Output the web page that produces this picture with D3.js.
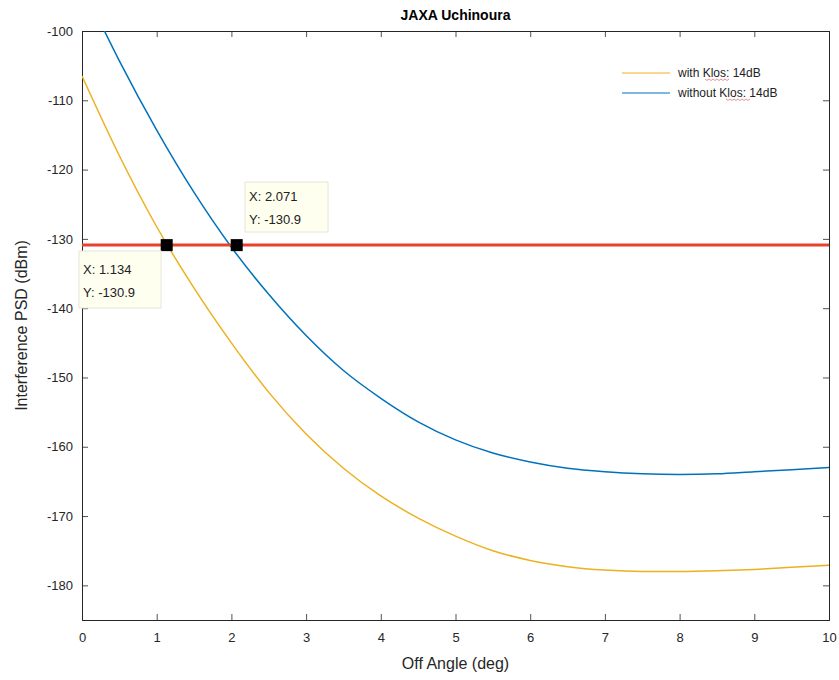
<!DOCTYPE html>
<html>
<head>
<meta charset="utf-8">
<script src="https://cdn.jsdelivr.net/npm/d3@7"></script>
<style>
  html, body { margin: 0; padding: 0; background: #fff; }
  svg { display: block; font-family: "Liberation Sans", Arial, Helvetica, sans-serif; }
</style>
</head>
<body>
<svg id="chart" width="839" height="680"></svg>
<script>
// ---------- data ----------
const angles = [0, 0.5, 1, 1.5, 2, 2.5, 3, 3.5, 4, 4.5, 5, 5.5, 6, 6.5, 7, 7.5, 8, 8.5, 9, 9.5, 10];
const withKlos = [-106.5, -118.0, -128.25, -137.1, -145.0, -152.15, -158.15, -163.1, -167.1, -170.3, -172.9, -175.0, -176.4, -177.3, -177.8, -178.0, -178.0, -177.9, -177.7, -177.4, -177.1];
const withoutKlos = [-93.3, -104.3, -114.3, -123.3, -131.2, -138.0, -143.95, -149.0, -153.0, -156.4, -159.0, -160.9, -162.2, -163.1, -163.6, -163.9, -164.0, -163.9, -163.6, -163.3, -163.0];
const seriesNames = ["with Klos: 14dB", "without Klos: 14dB"];
const thresholdLevel = -130.9;
const dataTips = [
  { x: 1.134, y: -130.9 },
  { x: 2.071, y: -130.9 }
];
const xTicks = [0, 1, 2, 3, 4, 5, 6, 7, 8, 9, 10];
const yTicks = [-100, -110, -120, -130, -140, -150, -160, -170, -180];
const titleText = "JAXA Uchinoura";
const xLabel = "Off Angle (deg)";
const yLabel = "Interference PSD (dBm)";

// ---------- layout ----------
const svg = d3.select("#chart");
const margin = { left: 82, right: 10, top: 31, bottom: 60 };
const W = 839, H = 680;
const x = d3.scaleLinear().domain([0, 10]).range([margin.left, W - margin.right]);
const y = d3.scaleLinear().domain([-185, -100]).range([H - margin.bottom, margin.top]);
const axisColor = "#262626";
const colors = ["#EDB120", "#0072BD"];
const fmt = d => String(d);

svg.append("defs").append("clipPath").attr("id", "clip")
  .append("rect")
  .attr("x", x(0)).attr("y", y(-100))
  .attr("width", x(10) - x(0)).attr("height", y(-185) - y(-100));

// axes (ticks inside, on all four sides)
const tickLen = 6;
const gx = svg.append("g").attr("transform", `translate(0,${y(-185)})`)
  .call(d3.axisBottom(x).tickValues(xTicks).tickSize(-tickLen).tickPadding(13).tickFormat(fmt));
const gxt = svg.append("g").attr("transform", `translate(0,${y(-100)})`)
  .call(d3.axisTop(x).tickValues(xTicks).tickSize(-tickLen).tickFormat(""));
const gy = svg.append("g").attr("transform", `translate(${x(0)},0)`)
  .call(d3.axisLeft(y).tickValues(yTicks).tickSize(-tickLen).tickPadding(9).tickFormat(fmt));
const gyr = svg.append("g").attr("transform", `translate(${x(10)},0)`)
  .call(d3.axisRight(y).tickValues(yTicks).tickSize(-tickLen).tickFormat(""));

[gx, gxt, gy, gyr].forEach(g => {
  g.select(".domain").attr("stroke", axisColor).attr("stroke-width", 1);
  g.selectAll(".tick line").attr("stroke", axisColor).attr("stroke-width", 0.8);
  g.selectAll(".tick text").attr("fill", axisColor).style("font-size", "13px");
});

// series lines
const line = d3.line().x(d => x(d[0])).y(d => y(d[1])).curve(d3.curveMonotoneX);
const plot = svg.append("g").attr("clip-path", "url(#clip)");
[withKlos, withoutKlos].forEach((vals, i) => {
  plot.append("path")
    .datum(angles.map((a, k) => [a, vals[k]]))
    .attr("fill", "none")
    .attr("stroke", colors[i])
    .attr("stroke-width", 1.5)
    .attr("d", line);
});

// threshold line
plot.append("line")
  .attr("x1", x(0)).attr("x2", x(10))
  .attr("y1", y(thresholdLevel)).attr("y2", y(thresholdLevel))
  .attr("stroke", "#E8412C").attr("stroke-width", 3);

// data tip markers
plot.selectAll("rect.marker").data(dataTips).enter().append("rect")
  .attr("class", "marker")
  .attr("x", d => x(d.x) - 6).attr("y", d => y(d.y) - 6)
  .attr("width", 12).attr("height", 12)
  .attr("fill", "#000");

// data tip boxes
const tipBoxes = [
  { x0: 79, y0: 251, w: 82, h: 57 },
  { x0: 245, y0: 182, w: 83, h: 50 }
];
dataTips.forEach((d, i) => {
  const b = tipBoxes[i];
  const g = svg.append("g");
  g.append("rect").attr("x", b.x0).attr("y", b.y0).attr("width", b.w).attr("height", b.h)
    .attr("fill", "#FFFFF0").attr("stroke", "#E6E6D8").attr("stroke-width", 1);
  g.append("text").attr("x", b.x0 + 4).attr("y", b.y0 + b.h / 2 - 6)
    .attr("fill", "#222").style("font-size", "13px")
    .text("X: " + d.x);
  g.append("text").attr("x", b.x0 + 4).attr("y", b.y0 + b.h / 2 + 17)
    .attr("fill", "#222").style("font-size", "13px")
    .text("Y: " + d.y);
});

// legend
const leg = svg.append("g");
seriesNames.forEach((name, i) => {
  const ly = 73 + i * 20;
  leg.append("line").attr("x1", 622).attr("x2", 670).attr("y1", ly).attr("y2", ly)
    .attr("stroke", colors[i]).attr("stroke-width", 1.2);
  leg.append("text").attr("x", 678).attr("y", ly + 4)
    .attr("fill", "#222").style("font-size", "12px").text(name);
});
// spell-check style squiggles under "Klos"
[[705, 79], [726, 99]].forEach(([sx, sy]) => {
  const pts = d3.range(0, 26, 2).map((k, j) => [sx + k, sy + (j % 2 ? 1.5 : 0)]);
  leg.append("path").attr("d", d3.line()(pts)).attr("fill", "none")
    .attr("stroke", "#E05050").attr("stroke-width", 0.8).attr("opacity", 0.8);
});

// title & labels
svg.append("text").attr("x", (x(0) + x(10)) / 2).attr("y", 20)
  .attr("text-anchor", "middle").attr("fill", "#000")
  .style("font-size", "14px").style("font-weight", "bold").text(titleText);
svg.append("text").attr("x", (x(0) + x(10)) / 2).attr("y", 669)
  .attr("text-anchor", "middle").attr("fill", axisColor)
  .style("font-size", "16px").text(xLabel);
svg.append("text")
  .attr("transform", `translate(27,${(y(-100) + y(-185)) / 2}) rotate(-90)`)
  .attr("text-anchor", "middle").attr("fill", axisColor)
  .style("font-size", "16px").text(yLabel);
</script>
</body>
</html>
